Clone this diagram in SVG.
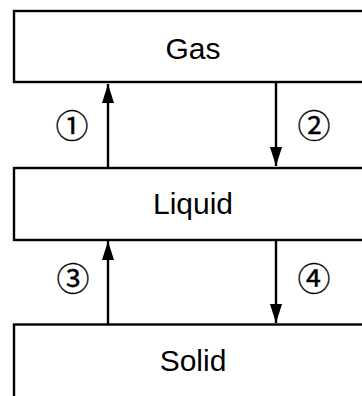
<svg xmlns="http://www.w3.org/2000/svg" width="362" height="396" viewBox="0 0 362 396">
<defs>
<style>
.box{fill:#fff;stroke:#000;stroke-width:2.4}
.lbl{font-family:"Liberation Sans",Arial,sans-serif;font-size:30px;fill:#000;text-anchor:middle}
.num{font-family:"Noto Sans CJK JP","Noto Sans CJK SC",sans-serif;font-size:33px;fill:#000;stroke:#000;stroke-width:0.3;text-anchor:middle}
.conn{stroke:#000;stroke-width:2.4;fill:none;marker-end:url(#ah)}
</style>
<marker id="ah" markerUnits="userSpaceOnUse" markerWidth="20" markerHeight="13" refX="19" refY="6" orient="auto" viewBox="0 0 20 12">
<path d="M0,0 L19,6 L0,12 z" fill="#000"/>
</marker>
</defs>
<rect width="362" height="396" fill="#fff"/>
<g id="gas"><rect class="box" x="14" y="11" width="380" height="71"/><text class="lbl" x="193" y="58.5">Gas</text></g>
<g id="liquid"><rect class="box" x="14" y="168" width="380" height="72"/><text class="lbl" x="193" y="213.5">Liquid</text></g>
<g id="solid"><rect class="box" x="14" y="324.5" width="380" height="90"/><text class="lbl" x="193" y="371">Solid</text></g>
<g id="connectors">
<line class="conn" x1="108" y1="168" x2="108" y2="84"/>
<line class="conn" x1="276" y1="82" x2="276" y2="166"/>
<line class="conn" x1="108" y1="324.5" x2="108" y2="241"/>
<line class="conn" x1="276" y1="240" x2="276" y2="323"/>
</g>
<g id="labels">
<text class="num" x="72" y="138">①</text>
<text class="num" x="314" y="138">②</text>
<text class="num" x="73" y="291">③</text>
<text class="num" x="314" y="291">④</text>
</g>
</svg>
